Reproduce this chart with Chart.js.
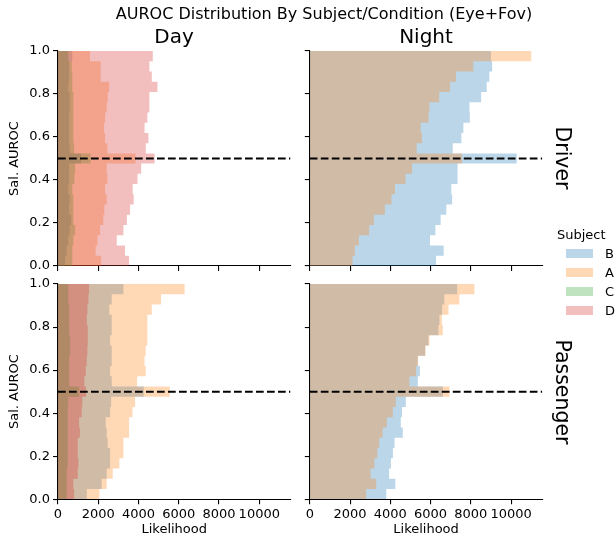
<!DOCTYPE html>
<html>
<head>
<meta charset="utf-8">
<script src="https://cdn.jsdelivr.net/npm/chart.js@4.4.1/dist/chart.umd.min.js"></script>
<style>
  body { margin: 0; background: #fff; font-family: 'DejaVu Sans', sans-serif; color: #000; }
  #fig { position: relative; width: 616px; height: 539px; overflow: hidden; }
  canvas { position: absolute; left: 0; top: 0; }
  .txt { position: absolute; white-space: nowrap; line-height: 1; transform: translate(-50%, -50%); }
  .rot { transform: translate(-50%, -50%) rotate(90deg); }
  .swatch { position: absolute; width: 27px; height: 9px; }
  .lbl { position: absolute; white-space: nowrap; line-height: 1; transform: translateY(-50%); font-size: 13px; }
</style>
</head>
<body>
<div id="fig">
  <canvas id="dayDriver" width="616" height="539"></canvas>
  <canvas id="nightDriver" width="616" height="539"></canvas>
  <canvas id="dayPassenger" width="616" height="539"></canvas>
  <canvas id="nightPassenger" width="616" height="539"></canvas>

  <div class="txt" style="left:324px; top:14px; font-size:16px;">AUROC Distribution By Subject/Condition (Eye+Fov)</div>
  <div class="txt" style="left:174px; top:36px; font-size:20px;">Day</div>
  <div class="txt" style="left:426px; top:36px; font-size:20px;">Night</div>
  <div class="txt rot" style="left:563px; top:158px; font-size:20.5px;">Driver</div>
  <div class="txt rot" style="left:563px; top:392px; font-size:20.5px;">Passenger</div>
  <div id="legend"></div>
</div>
<script>
// subjects in legend order, and their colours
const subjects = ['B', 'A', 'C', 'D'];
const colors = {
    B: 'rgba(31, 119, 180, 0.3)',
    A: 'rgba(255, 127, 14, 0.3)',
    C: 'rgba(44, 160, 44, 0.3)',
    D: 'rgba(214, 39, 40, 0.3)'
};

// 21 histogram bins of Sal. AUROC between 0 and 1
const binCount = 21;
const yTicks = [0, 0.2, 0.4, 0.6, 0.8, 1.0];
const xTicks = [0, 2000, 4000, 6000, 8000, 10000];
const xMax = 11550;
const chanceLine = 0.5;

// likelihood per bin, bottom bin (0.0) first
const dayDriverB = [350, 430, 510, 580, 650, 550, 580, 510, 550, 550, 1150, 580, 550, 550, 550, 580, 580, 510, 550, 550, 710];
const dayDriverA = [2140, 1870, 1960, 2090, 2250, 2300, 2420, 2340, 2450, 2420, 3850, 2450, 2340, 2290, 2340, 2420, 2470, 2540, 2120, 2120, 1590];
const dayDriverC = [710, 710, 760, 850, 760, 760, 760, 710, 810, 850, 1620, 800, 760, 760, 760, 760, 760, 710, 710, 680, 510];
const dayDriverD = [3530, 3330, 2920, 3250, 3420, 3580, 3760, 3710, 3950, 4130, 4800, 4360, 4490, 4300, 4440, 4540, 4540, 4940, 4660, 4540, 4710];

const nightDriverB = [6270, 6650, 5970, 6240, 6500, 6780, 7070, 7030, 7340, 7340, 10280, 7100, 7530, 7630, 7950, 7930, 8510, 8790, 8920, 9060, 9000];
const nightDriverA = [2120, 2240, 2440, 2950, 3180, 3730, 4060, 4230, 4760, 5080, 7560, 5310, 5570, 5510, 5900, 5940, 6430, 6970, 7260, 8120, 11000];

const dayPassengerB = [1430, 2170, 2420, 2590, 2590, 2470, 2420, 2370, 2590, 2640, 4260, 2670, 2590, 2670, 2670, 2590, 2670, 2670, 2550, 2670, 3250];
const dayPassengerA = [2060, 2420, 2720, 3050, 3250, 3250, 3530, 3530, 3700, 3830, 5550, 3930, 4360, 4300, 4360, 4440, 4440, 4440, 4660, 5120, 6290];
const dayPassengerC = [430, 430, 430, 480, 480, 480, 480, 480, 480, 510, 1050, 550, 550, 550, 600, 600, 550, 550, 550, 510, 510];
const dayPassengerD = [800, 760, 980, 1010, 980, 980, 1090, 1050, 1180, 1210, 1390, 1310, 1380, 1430, 1460, 1480, 1480, 1430, 1460, 1510, 1540];

const nightPassengerB = [3800, 4250, 3940, 4030, 4130, 4210, 4620, 4520, 4580, 4770, 6610, 5370, 5470, 5360, 5730, 5895, 6390, 6440, 6575, 6680, 7320];
const nightPassengerA = [2800, 3300, 3020, 3210, 3350, 3450, 3620, 3830, 4125, 4270, 6940, 4950, 5280, 5380, 5750, 5945, 6610, 6560, 6890, 7430, 8180];

Chart.defaults.font.family = "'DejaVu Sans', sans-serif";
Chart.defaults.color = '#000';

const tickFont = { size: 13 };
const W = 616, H = 539;

// step outline of a histogram: two corners per bin, filled back to x = 0
function toSteps(values) {
    const pts = [];
    values.forEach((v, i) => {
        pts.push({ x: v, y: i / binCount });
        pts.push({ x: v, y: (i + 1) / binCount });
    });
    return pts;
}

function makePanel(id, series, area, showY, showX) {
    // last subject is drawn on top, like the reference
    const datasets = [];
    for (let i = subjects.length - 1; i >= 0; i--) {
        const s = subjects[i];
        if (!series[s]) continue;
        datasets.push({
            label: s,
            data: toSteps(series[s]),
            backgroundColor: colors[s],
            borderColor: 'rgba(0,0,0,0)',
            borderWidth: 0,
            fill: 'origin',
            stepped: true,
            pointRadius: 0
        });
    }
    datasets.push({
        label: 'chance',
        data: [{ x: 0, y: chanceLine }, { x: xMax, y: chanceLine }],
        borderColor: '#000',
        borderWidth: 2,
        borderDash: [7.7, 3.3],
        pointRadius: 0,
        fill: false,
        order: -1
    });

    new Chart(document.getElementById(id), {
        type: 'line',
        data: { datasets: datasets },
        options: {
            indexAxis: 'y',
            responsive: false,
            animation: false,
            events: [],
            layout: { padding: { left: 0, top: area.top, right: W - area.right, bottom: 0 } },
            plugins: { legend: { display: false }, tooltip: { enabled: false } },
            scales: {
                x: {
                    type: 'linear',
                    min: 0,
                    max: xMax,
                    afterBuildTicks: s => { s.ticks = xTicks.map(v => ({ value: v })); },
                    ticks: { display: showX, font: tickFont, padding: 3, maxRotation: 0, callback: v => String(v) },
                    grid: { display: true, drawOnChartArea: false, drawTicks: true, tickLength: 5, color: '#000', lineWidth: 1.1 },
                    border: { display: true, color: '#000', width: 1.1 },
                    title: { display: showX, text: 'Likelihood', font: { size: 13 }, padding: { top: 4, bottom: 2 } },
                    afterFit: s => { s.height = H - area.bottom; }
                },
                y: {
                    type: 'linear',
                    min: 0,
                    max: 1,
                    offset: false,
                    afterBuildTicks: s => { s.ticks = yTicks.map(v => ({ value: v })); },
                    ticks: { display: showY, font: tickFont, padding: 3, callback: v => v.toFixed(1) },
                    grid: { display: true, offset: false, drawOnChartArea: false, drawTicks: true, tickLength: 5, color: '#000', lineWidth: 1.1 },
                    border: { display: true, color: '#000', width: 1.1 },
                    title: { display: showY, text: 'Sal. AUROC', font: { size: 13 }, padding: { top: 6.5, bottom: 4 } },
                    afterFit: s => { s.width = area.left; }
                }
            }
        }
    });
}

makePanel('dayDriver', { B: dayDriverB, A: dayDriverA, C: dayDriverC, D: dayDriverD },
    { left: 58, right: 290.5, top: 51, bottom: 266 }, true, false);
makePanel('nightDriver', { B: nightDriverB, A: nightDriverA },
    { left: 309.8, right: 542.3, top: 51, bottom: 266 }, false, false);
makePanel('dayPassenger', { B: dayPassengerB, A: dayPassengerA, C: dayPassengerC, D: dayPassengerD },
    { left: 58, right: 290.5, top: 284, bottom: 499.3 }, true, true);
makePanel('nightPassenger', { B: nightPassengerB, A: nightPassengerA },
    { left: 309.8, right: 542.3, top: 284, bottom: 499.3 }, false, true);

// figure legend on the right
const legend = document.getElementById('legend');
let html = '<div class="lbl" style="left:557px; top:234px;">Subject</div>';
subjects.forEach((s, i) => {
    const y = 253 + i * 19;
    html += `<div class="swatch" style="left:566px; top:${y - 4.5}px; background:${colors[s]};"></div>`;
    html += `<div class="lbl" style="left:605px; top:${y}px;">${s}</div>`;
});
legend.innerHTML = html;
</script>
</body>
</html>
